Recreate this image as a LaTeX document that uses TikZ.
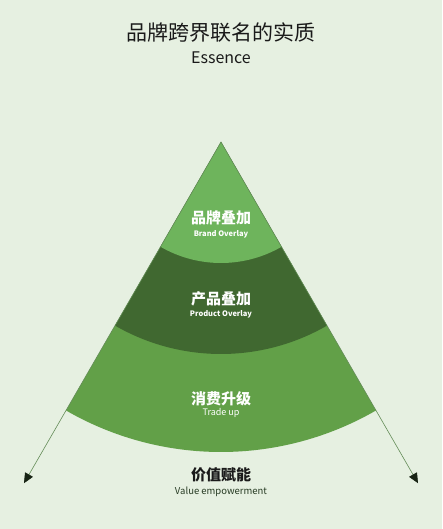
\documentclass[tikz,border=0pt]{standalone}
\usepackage{fontspec}
\setmainfont{Noto Sans CJK SC}
\usetikzlibrary{arrows.meta}

\definecolor{bgcolor}{RGB}{230,240,225}
\definecolor{topband}{RGB}{110,180,92}
\definecolor{midband}{RGB}{64,104,48}
\definecolor{lowband}{RGB}{98,160,72}
\definecolor{edgeline}{RGB}{100,140,88}
\definecolor{tipcolor}{RGB}{24,36,20}
\definecolor{textdark}{RGB}{26,26,26}
\definecolor{subdark}{RGB}{40,60,36}

\tikzset{
  cnlabel/.style={text=white, font=\fontsize{15}{18}\selectfont\bfseries, inner sep=0pt},
  enlabel/.style={text=white, font=\fontsize{7.5}{9}\selectfont\bfseries, inner sep=0pt},
  edgearrow/.style={edgeline, line width=0.6pt, -{Triangle[length=10pt,width=9pt,fill=tipcolor,color=tipcolor]}}
}

\begin{document}
\begin{tikzpicture}[x=1pt,y=1pt]
% Background
\fill[bgcolor] (0,0) rectangle (442,529);

% Apex of the fan
\coordinate (apex) at (221,387);

% Bands, outer first
\fill[lowband] (apex) -- ++(240:310) arc[start angle=240, end angle=300, radius=310] -- cycle;
\fill[midband] (apex) -- ++(240:212) arc[start angle=240, end angle=300, radius=212] -- cycle;
\fill[topband] (apex) -- ++(240:121) arc[start angle=240, end angle=300, radius=121] -- cycle;

% Side arrows
\path (apex) ++(240:394) coordinate (lefttip);
\path (apex) ++(300:394) coordinate (righttip);
\draw[edgearrow] (apex) -- (lefttip);
\draw[edgearrow] (apex) -- (righttip);

% Title
\node[text=textdark, font=\fontsize{21}{25}\selectfont, inner sep=0pt] (title) at (221,496) {品牌跨界联名的实质};
\node[text=textdark, font=\fontsize{16}{19}\selectfont, inner sep=0pt] (subtitle) at (221,471) {Essence};

% Band labels
\node[cnlabel] (brandcn) at (221,311) {品牌叠加};
\node[enlabel] (branden) at (221,295) {Brand Overlay};
\node[cnlabel] (productcn) at (221,230) {产品叠加};
\node[enlabel] (producten) at (221,215) {Product Overlay};
\node[cnlabel] (tradecn) at (221,130) {消费升级};
\node[enlabel, font=\fontsize{9}{10}\selectfont] (tradeen) at (221,116) {Trade up};

% Bottom label
\node[cnlabel, text=textdark] (valuecn) at (221,54) {价值赋能};
\node[enlabel, text=subdark, font=\fontsize{9.5}{11}\selectfont] (valueen) at (221,37) {Value empowerment};
\end{tikzpicture}
\end{document}
